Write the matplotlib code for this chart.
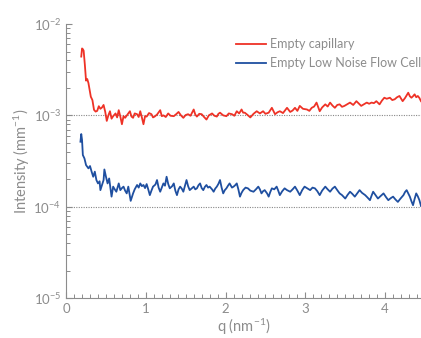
import numpy as np
import matplotlib
matplotlib.use('Agg')
import matplotlib.pyplot as plt
from matplotlib.ticker import LogLocator, MultipleLocator, FixedLocator

plt.rcParams['font.family'] = ['Lato', 'DejaVu Sans']
plt.rcParams['mathtext.fontset'] = 'custom'
plt.rcParams['mathtext.rm'] = 'Lato'
plt.rcParams['mathtext.default'] = 'regular'

# Empty capillary (intensity in 1e-3 mm^-1)
q_cap = [0.19, 0.20, 0.21, 0.22, 0.235, 0.25, 0.265, 0.28, 0.295, 0.31, 0.33, 0.35, 0.37, 0.39,
         0.41, 0.43, 0.45, 0.47, 0.49, 0.51, 0.53, 0.55, 0.57, 0.59, 0.62, 0.64, 0.66, 0.68,
         0.70, 0.72, 0.74, 0.77, 0.80, 0.82, 0.84, 0.86, 0.89, 0.91, 0.93, 0.95, 0.97, 0.99,
         1.01, 1.04, 1.07, 1.09, 1.11, 1.14, 1.18, 1.20, 1.22, 1.25, 1.28, 1.31, 1.35, 1.38,
         1.41, 1.44, 1.47, 1.50, 1.53, 1.56, 1.60, 1.62, 1.64, 1.67, 1.70, 1.73, 1.76, 1.79,
         1.83, 1.86, 1.89, 1.91, 1.93, 1.97, 2.01, 2.04, 2.08, 2.11, 2.14, 2.17, 2.20, 2.22,
         2.24, 2.27, 2.31, 2.35, 2.39, 2.43, 2.47, 2.50, 2.54, 2.58, 2.62, 2.65, 2.68, 2.72,
         2.77, 2.81, 2.84, 2.87, 2.90, 2.93, 2.97, 3.02, 3.05, 3.08, 3.11, 3.14, 3.18, 3.21,
         3.25, 3.28, 3.31, 3.34, 3.37, 3.40, 3.43, 3.46, 3.49, 3.53, 3.56, 3.60, 3.64, 3.67,
         3.70, 3.74, 3.77, 3.80, 3.83, 3.86, 3.89, 3.93, 3.96, 3.99, 4.02, 4.06, 4.09, 4.12,
         4.15, 4.18, 4.22, 4.25, 4.29, 4.31, 4.33, 4.35, 4.37, 4.39, 4.41, 4.43, 4.45]
i_cap = [4.4, 5.4, 5.3, 5.1, 3.6, 2.4, 2.5, 2.26, 1.9, 1.6, 1.47, 1.15, 1.10, 1.12,
         1.26, 1.18, 1.22, 1.30, 1.10, 0.87, 1.0, 1.11, 0.92, 0.98, 1.05, 0.95, 1.14, 0.97,
         0.80, 0.98, 0.94, 1.02, 1.11, 0.97, 0.94, 1.05, 1.03, 0.96, 1.11, 0.95, 0.80, 0.98,
         0.97, 1.06, 1.03, 0.95, 0.97, 1.02, 1.14, 0.98, 1.0, 0.96, 1.05, 0.99, 0.98, 1.03,
         1.09, 1.0, 0.94, 1.01, 1.03, 0.99, 1.16, 1.02, 0.97, 1.04, 1.03, 0.96, 0.90, 1.0,
         1.05, 0.99, 0.97, 1.04, 1.07, 1.0, 0.98, 1.05, 1.03, 0.99, 1.11, 1.05, 1.16, 1.07,
         1.07, 1.02, 0.95, 1.04, 1.11, 1.05, 1.11, 1.04, 1.07, 1.21, 1.03, 1.08, 1.11, 1.06,
         1.21, 1.09, 1.13, 1.21, 1.12, 1.27, 1.18, 1.16, 1.12, 1.21, 1.25, 1.38, 1.11, 1.22,
         1.32, 1.25, 1.38, 1.28, 1.21, 1.30, 1.32, 1.24, 1.27, 1.33, 1.38, 1.30, 1.43, 1.35,
         1.27, 1.33, 1.38, 1.34, 1.38, 1.36, 1.43, 1.32, 1.45, 1.56, 1.52, 1.56, 1.47, 1.50,
         1.58, 1.63, 1.43, 1.55, 1.77, 1.62, 1.56, 1.62, 1.70, 1.58, 1.63, 1.55, 1.43]

# Empty Low Noise Flow Cell (intensity in 1e-4 mm^-1)
q_cell = [0.18, 0.19, 0.20, 0.21, 0.23, 0.25, 0.27, 0.28, 0.30, 0.32, 0.34, 0.36, 0.38, 0.40,
          0.42, 0.43, 0.45, 0.47, 0.48, 0.50, 0.52, 0.54, 0.57, 0.59, 0.61, 0.63, 0.66, 0.68,
          0.70, 0.72, 0.74, 0.76, 0.78, 0.81, 0.84, 0.86, 0.89, 0.91, 0.93, 0.95, 0.97, 0.99,
          1.01, 1.03, 1.05, 1.07, 1.09, 1.12, 1.14, 1.16, 1.18, 1.20, 1.22, 1.24, 1.26, 1.28,
          1.30, 1.33, 1.35, 1.37, 1.39, 1.41, 1.43, 1.45, 1.47, 1.49, 1.51, 1.53, 1.55, 1.58,
          1.60, 1.62, 1.64, 1.66, 1.68, 1.70, 1.72, 1.74, 1.76, 1.78, 1.80, 1.83, 1.85, 1.87,
          1.89, 1.91, 1.93, 1.95, 1.97, 1.99, 2.01, 2.03, 2.05, 2.08, 2.10, 2.12, 2.14, 2.16,
          2.18, 2.20, 2.22, 2.25, 2.28, 2.31, 2.35, 2.38, 2.41, 2.43, 2.45, 2.47, 2.49, 2.52,
          2.54, 2.56, 2.58, 2.61, 2.64, 2.66, 2.68, 2.71, 2.74, 2.77, 2.81, 2.84, 2.87, 2.90,
          2.93, 2.96, 2.99, 3.02, 3.06, 3.09, 3.12, 3.15, 3.18, 3.21, 3.25, 3.28, 3.31, 3.34,
          3.37, 3.40, 3.43, 3.46, 3.50, 3.53, 3.56, 3.59, 3.62, 3.65, 3.68, 3.71, 3.75, 3.78,
          3.81, 3.83, 3.85, 3.88, 3.91, 3.94, 3.98, 4.01, 4.04, 4.07, 4.10, 4.13, 4.16, 4.19,
          4.23, 4.25, 4.27, 4.29, 4.31, 4.33, 4.35, 4.37, 4.39, 4.41, 4.43, 4.45]
i_cell = [5.15, 6.25, 5.37, 3.68, 3.38, 2.86, 2.70, 2.63, 2.79, 2.42, 2.13, 2.42, 1.96, 1.80,
          1.90, 1.52, 1.73, 1.96, 2.56, 2.13, 1.80, 2.04, 1.29, 1.66, 1.55, 1.46, 1.80, 1.52,
          1.60, 1.66, 1.50, 1.40, 1.66, 1.16, 1.40, 1.55, 1.73, 1.62, 1.80, 1.68, 1.73, 1.60,
          1.77, 1.55, 1.34, 1.50, 1.66, 1.75, 1.96, 1.62, 1.46, 1.62, 1.80, 1.70, 2.13, 1.78,
          1.59, 1.68, 1.80, 1.50, 1.34, 1.55, 1.66, 1.58, 1.46, 1.70, 1.96, 1.68, 1.52, 1.60,
          1.66, 1.55, 1.59, 1.72, 1.80, 1.60, 1.52, 1.65, 1.73, 1.62, 1.66, 1.55, 1.46, 1.58,
          1.66, 1.78, 1.96, 1.62, 1.40, 1.52, 1.59, 1.70, 1.80, 1.62, 1.66, 1.72, 1.80, 1.55,
          1.29, 1.42, 1.52, 1.62, 1.59, 1.50, 1.46, 1.55, 1.66, 1.55, 1.40, 1.48, 1.52, 1.40,
          1.29, 1.45, 1.59, 1.55, 1.66, 1.50, 1.34, 1.48, 1.59, 1.52, 1.46, 1.55, 1.66, 1.50,
          1.34, 1.52, 1.66, 1.60, 1.52, 1.62, 1.59, 1.48, 1.34, 1.50, 1.66, 1.55, 1.46, 1.58,
          1.66, 1.52, 1.40, 1.34, 1.23, 1.35, 1.46, 1.38, 1.29, 1.40, 1.52, 1.42, 1.34, 1.26,
          1.18, 1.32, 1.46, 1.34, 1.23, 1.30, 1.40, 1.28, 1.18, 1.24, 1.29, 1.20, 1.13, 1.22,
          1.34, 1.45, 1.52, 1.40, 1.29, 1.15, 1.04, 1.22, 1.40, 1.30, 1.18, 1.02]

grey = '#8c8c8c'

fig = plt.figure(figsize=(4.21, 3.38), dpi=100)
ax = fig.add_axes([0.157, 0.118, 0.843, 0.811])

# dotted reference lines
ax.axhline(1e-3, color='#888888', lw=0.8, ls=(0, (1, 1.2)), zorder=1)
ax.axhline(1e-4, color='#888888', lw=0.8, ls=(0, (1, 1.2)), zorder=1)

ax.plot(q_cap, np.array(i_cap) * 1e-3, color='#ee3226', lw=1.3, label='Empty capillary', zorder=3)
ax.plot(q_cell, np.array(i_cell) * 1e-4, color='#1f4fa0', lw=1.3, label='Empty Low Noise Flow Cell', zorder=3)

ax.set_yscale('log')
ax.set_ylim(1e-5, 1e-2)
ax.set_xlim(0, 4.45)

ax.spines['top'].set_visible(False)
ax.spines['right'].set_visible(False)
ax.spines['left'].set_color(grey)
ax.spines['bottom'].set_color(grey)

ax.xaxis.set_major_locator(MultipleLocator(1))
ax.xaxis.set_minor_locator(MultipleLocator(0.1))
ax.yaxis.set_major_locator(FixedLocator([1e-5, 1e-4, 1e-3, 1e-2]))
ax.yaxis.set_minor_locator(LogLocator(base=10, subs=np.arange(2, 10)))
ax.yaxis.set_minor_formatter(plt.NullFormatter())
ax.set_yticklabels(['10$^{-5}$', '10$^{-4}$', '10$^{-3}$', '10$^{-2}$'])

ax.tick_params(which='both', direction='in', color=grey, labelcolor=grey, labelsize=9.5)
ax.tick_params(which='major', length=4, width=0.8)
ax.tick_params(which='minor', length=3, width=0.7)

ax.set_xlabel('q (nm$^{-1}$)', color=grey, fontsize=10.5, labelpad=1)
ax.set_ylabel('Intensity (mm$^{-1}$)', color=grey, fontsize=10.5, labelpad=1)

leg = ax.legend(loc='upper left', bbox_to_anchor=(0.478, 0.948), frameon=False,
                fontsize=9, handlelength=2.4, handletextpad=0.35, labelspacing=0.55,
                borderaxespad=0, borderpad=0)
for t in leg.get_texts():
    t.set_color(grey)

fig.savefig('out.png', dpi=100)
